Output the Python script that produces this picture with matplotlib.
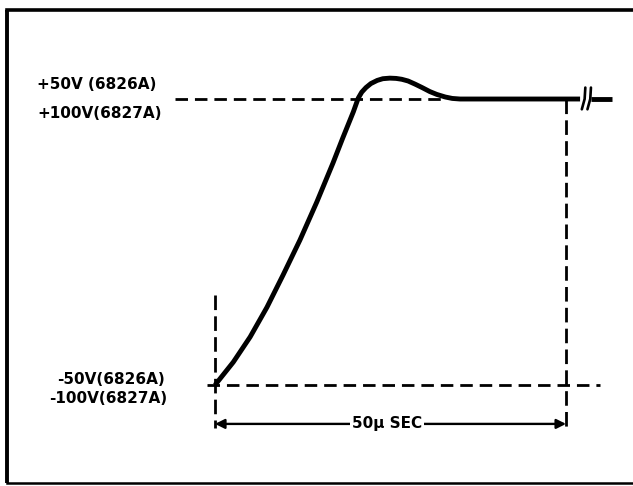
import matplotlib
matplotlib.use("Agg")
import matplotlib.pyplot as plt

plt.rcParams['lines.scale_dashes'] = False
FONT = ['DejaVu Sans']

# ---- data (time in microseconds, voltage as % of full step: -50 .. +50) ----
t_curve = [0.0, 2.6, 5.0, 7.4, 9.7, 12.1, 14.5, 16.8, 18.2, 19.7, 20.4, 20.9,
           21.5, 22.2, 23.1, 23.9, 24.9, 25.8, 26.6, 27.5, 28.5, 29.5, 30.6,
           31.6, 32.8, 33.8, 34.9, 52.0]
v_curve = [-50.0, -42.0, -33.2, -22.8, -11.5, 0.7, 14.0, 27.6, 36.4, 45.5, 50.3, 52.4,
           54.0, 55.4, 56.5, 57.1, 57.3, 57.2, 56.9, 56.3, 55.2, 54.0, 52.6,
           51.6, 50.7, 50.2, 50.0, 50.0]
t_tail = [53.6, 56.5]          # part of the flat line after the break
v_high, v_low = 50.0, -50.0
t_span = 50.0                  # 50 usec marker
span_label = "50\u03bc SEC"
high_labels = ["+50V (6826A)", "+100V(6827A)"]
low_labels = ["-50V(6826A)", "-100V(6827A)"]

W, H = 633, 486
fig = plt.figure(figsize=(W / 100, H / 100), dpi=100)
ax = fig.add_axes([0, 0, 1, 1])
ax.set_xlim(-30.63, 59.54)
ax.set_ylim(-85.31, 84.62)
ax.axis('off')

# frame (left, top, bottom)
ax.plot([0.011, 0.011], [0.006, 0.979], transform=ax.transAxes, color='black', lw=2.8,
        solid_capstyle='butt')
ax.plot([0.011, 1.0], [0.979, 0.979], transform=ax.transAxes, color='black', lw=2.6)
ax.plot([0.011, 1.0], [0.006, 0.006], transform=ax.transAxes, color='black', lw=1.8)

dash_h = (0, (9.0, 5.0))
dash_v = (0, (10.5, 4.5))
# horizontal reference levels
ax.plot([-5.7, 32.8], [v_high, v_high], color='black', lw=2.0, linestyle=dash_h)
ax.plot([-1.1, 54.9], [v_low, v_low], color='black', lw=2.0, linestyle=dash_h)
# vertical time markers
ax.plot([0, 0], [-18.5, -65.0], color='black', lw=2.0, linestyle=dash_v)
ax.plot([t_span, t_span], [v_high, -66.4], color='black', lw=2.0, linestyle=dash_v)

# waveform
ax.plot(t_curve, v_curve, color='black', lw=3.5, solid_joinstyle='round',
        solid_capstyle='butt')
ax.plot(t_tail, [v_high, v_high], color='black', lw=3.5, solid_capstyle='butt')
# break marks
for tb in (52.4, 53.2):
    ax.plot([tb + 0.35, tb + 0.25, tb - 0.15], [v_high + 4.0, v_high, v_high - 3.6],
            color='black', lw=1.9, solid_capstyle='round')

# 50 usec span arrow
y_arr = -63.6
ax.annotate('', xy=(0, y_arr), xytext=(t_span, y_arr),
            arrowprops=dict(arrowstyle='<|-|>', color='black', lw=1.7,
                            mutation_scale=14, shrinkA=0, shrinkB=0))
ax.text(24.5, y_arr, span_label, ha='center', va='center', fontsize=11,
        fontweight='bold', family=FONT,
        bbox=dict(facecolor='white', edgecolor='none', pad=1.5))

# level labels
ax.text(-8.3, v_high + 5.1, high_labels[0], ha='right', va='center', fontsize=11,
        fontweight='bold', family=FONT)
ax.text(-7.5, v_high - 5.2, high_labels[1], ha='right', va='center', fontsize=11,
        fontweight='bold', family=FONT)
ax.text(-7.1, v_low + 2.0, low_labels[0], ha='right', va='center', fontsize=11,
        fontweight='bold', family=FONT)
ax.text(-6.8, v_low - 4.8, low_labels[1], ha='right', va='center', fontsize=11,
        fontweight='bold', family=FONT)

fig.savefig('out.png', dpi=100, facecolor='white')
